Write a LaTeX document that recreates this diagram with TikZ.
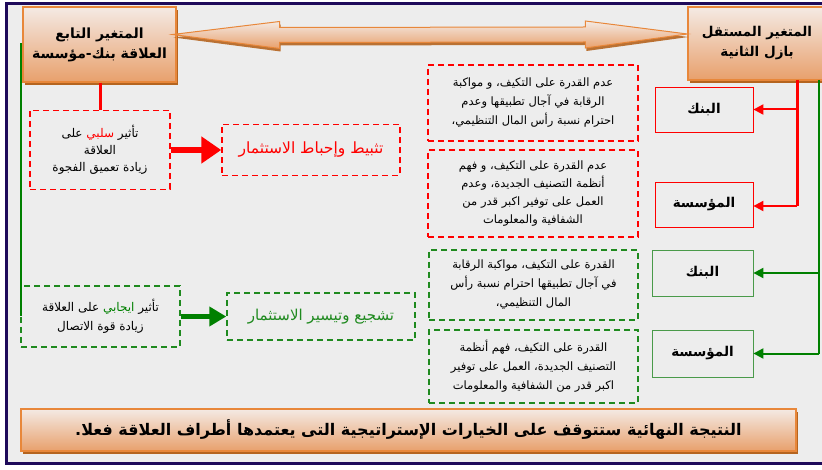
\documentclass[tikz,border=0pt]{standalone}
\usepackage{fontspec}
\usetikzlibrary{arrows.meta,shadows,calc}
\newfontfamily\arfont[Script=Arabic]{DejaVu Sans}
\TeXXeTstate=1
\newcommand\RL[1]{\beginR #1\endR}
\definecolor{bgc}{HTML}{EDEDED}
\definecolor{navy}{HTML}{1E0A5A}
\definecolor{orb}{HTML}{E8873A}
\definecolor{ortop}{HTML}{F4EAE4}
\definecolor{orbot}{HTML}{E8A06C}
\definecolor{shad}{HTML}{B5641F}
\definecolor{gr}{HTML}{008000}
\definecolor{grd}{HTML}{1F8A1F}
\definecolor{grb}{HTML}{4A9A4A}
\tikzset{
  orbox/.style={draw=orb, line width=1.2pt, top color=ortop, bottom color=orbot,
    drop shadow={shadow xshift=2pt, shadow yshift=-3pt, fill=shad, opacity=1},
    inner sep=0pt, align=center, font=\arfont\bfseries\fontsize{14}{20}\selectfont},
  rdash/.style={draw=red, dash pattern=on 6pt off 4pt, line width=1.5pt, inner sep=0pt,
    align=center, font=\arfont\fontsize{11.5}{19}\selectfont},
  gdash/.style={draw=grd, dash pattern=on 6pt off 4pt, line width=1.5pt, inner sep=0pt,
    align=center, font=\arfont\fontsize{11.5}{19}\selectfont},
  rsolid/.style={draw=red, line width=0.8pt, inner sep=0pt, font=\arfont\bfseries\fontsize{13.5}{15}\selectfont},
  gsolid/.style={draw=grb, line width=0.8pt, inner sep=0pt, font=\arfont\bfseries\fontsize{13.5}{15}\selectfont},
  rtrunk/.style={red, line width=3pt},
  gtrunk/.style={gr, line width=2.5pt},
  rbranch/.style={red, line width=2pt, -{Triangle[length=10pt,width=10pt]}},
  gbranch/.style={gr, line width=2pt, -{Triangle[length=10pt,width=10pt]}},
}
\begin{document}
\begin{tikzpicture}[x=1pt,y=-1pt]
\useasboundingbox (0,0) rectangle (822,470);
\clip (0,0) rectangle (822,470);
\fill[white] (0,0) rectangle (822,470);
\fill[bgc] (6.5,3.5) rectangle (830,463.5);
\draw[navy, line width=3pt] (830,3.5) -- (6.5,3.5) -- (6.5,463.5) -- (830,463.5);

% top boxes
\node[orbox, minimum width=153pt, minimum height=75pt] (tl) at (99.5,44.5)
  {\RL{المتغير التابع}\\\RL{العلاقة بنك-مؤسسة}};
\node[orbox, minimum width=138pt, minimum height=73pt, font=\arfont\bfseries\fontsize{13.5}{20}\selectfont] (tr) at (757,43.5)
  {\RL{المتغير المستقل}\\\RL{بازل الثانية}};

% double arrow
\coordinate (la) at ($(tl.east)+(-4,-10)$);
\coordinate (ra) at ($(tr.west)+(0,-9.5)$);
\path[draw=orb, line width=1pt, top color=ortop, bottom color=orbot,
  drop shadow={shadow xshift=1pt, shadow yshift=-3pt, fill=shad, opacity=0.9}]
  (la) -- ++(107,-13) -- ++(0,6) -- ($(ra)+(-102,-7)$) -- ++(0,-6) -- (ra)
  -- ++(-102,14) -- ++(0,-6) -- ($(la)+(107,8)$) -- ++(0,6) -- cycle;
\draw[orb, line width=1.2pt] (tl.north east) -- (tl.south east);

% left red branch
\node[rdash, minimum width=140pt, minimum height=79pt, font=\arfont\fontsize{12}{17}\selectfont] (r1) at (100,150)
  {\RL{على} \textcolor{red}{\RL{سلبي}} \RL{تأثير}\\\RL{العلاقة}\\\RL{زيادة تعميق الفجوة}};
\node[rdash, minimum width=178pt, minimum height=51pt, text=red, font=\arfont\fontsize{15.5}{17}\selectfont] (r2) at (311,150)
  {\RL{تثبيط وإحباط الاستثمار}};
\draw[rtrunk] (r1.north |- tl.south) -- (r1.north);
\draw[red, line width=6pt, -{Triangle[length=20pt,width=26pt]}] (r1.east) -- (r2.west);

% left green branch
\node[gdash, minimum width=159pt, minimum height=61pt, font=\arfont\fontsize{12}{19}\selectfont] (g1) at (100.5,316.5)
  {\RL{على العلاقة} \textcolor{gr}{\RL{ايجابي}} \RL{تأثير}\\\RL{زيادة قوة الاتصال}};
\node[gdash, minimum width=188pt, minimum height=47pt, text=grd, font=\arfont\fontsize{15}{17}\selectfont] (g2) at (321,316.5)
  {\RL{تشجيع وتيسير الاستثمار}};
\coordinate (gtop) at (21,43);
\draw[gtrunk] (gtop) -- (gtop |- g1.west);
\draw[gr, line width=5pt, -{Triangle[length=17pt,width=19pt]}] (g1.east) -- (g2.west);

% right red
\node[rdash, minimum width=210pt, minimum height=76pt] (rA) at (533,103)
  {\RL{عدم القدرة على التكيف، و مواكبة}\\\RL{الرقابة في آجال تطبيقها وعدم}\\\RL{احترام نسبة رأس المال التنظيمي،}};
\node[rdash, minimum width=210pt, minimum height=87pt, font=\arfont\fontsize{11.5}{18}\selectfont] (rB) at (533,193.5)
  {\RL{عدم القدرة على التكيف، و فهم}\\\RL{أنظمة التصنيف الجديدة، وعدم}\\\RL{العمل على توفير اكبر قدر من}\\\RL{الشفافية والمعلومات}};
\node[rsolid, minimum width=98pt, minimum height=45pt] (bank1) at (704,109.5) {\RL{البنك}};
\node[rsolid, minimum width=98pt, minimum height=45pt] (mu1) at (704,204.5) {\RL{المؤسسة}};
\coordinate (rtop) at (797,80);
\coordinate (rbot) at (797,206);
\draw[rtrunk] (rtop) -- (rbot);
\draw[rbranch] (rtop |- bank1.east) -- (bank1.east);
\draw[rbranch] (rbot) -- (rbot -| mu1.east);

% right green
\node[gdash, minimum width=209pt, minimum height=70pt] (gC) at (533.5,285)
  {\RL{القدرة على التكيف، مواكبة الرقابة}\\\RL{في آجال تطبيقها احترام نسبة رأس}\\\RL{المال التنظيمي،}};
\node[gdash, minimum width=209pt, minimum height=73pt] (gD) at (533.5,366.5)
  {\RL{القدرة على التكيف، فهم أنظمة}\\\RL{التصنيف الجديدة، العمل على توفير}\\\RL{اكبر قدر من الشفافية والمعلومات}};
\node[gsolid, minimum width=101pt, minimum height=46pt] (bank2) at (702.5,273) {\RL{البنك}};
\node[gsolid, minimum width=101pt, minimum height=47pt] (mu2) at (702.5,353.5) {\RL{المؤسسة}};
\coordinate (gtr) at (819,80);
\coordinate (gbr) at (819,353.5);
\draw[gtrunk] (gtr) -- (gbr);
\draw[gbranch] (gtr |- bank2.east) -- (bank2.east);
\draw[gbranch] (gbr) -- (mu2.east);

% bottom box
\node[orbox, minimum width=775pt, minimum height=42pt, font=\arfont\bfseries\fontsize{16}{18}\selectfont] (bot) at (408.5,430)
  {\RL{النتيجة النهائية ستتوقف على الخيارات الإستراتيجية التى يعتمدها أطراف العلاقة فعلا.}};
\end{tikzpicture}
\end{document}
